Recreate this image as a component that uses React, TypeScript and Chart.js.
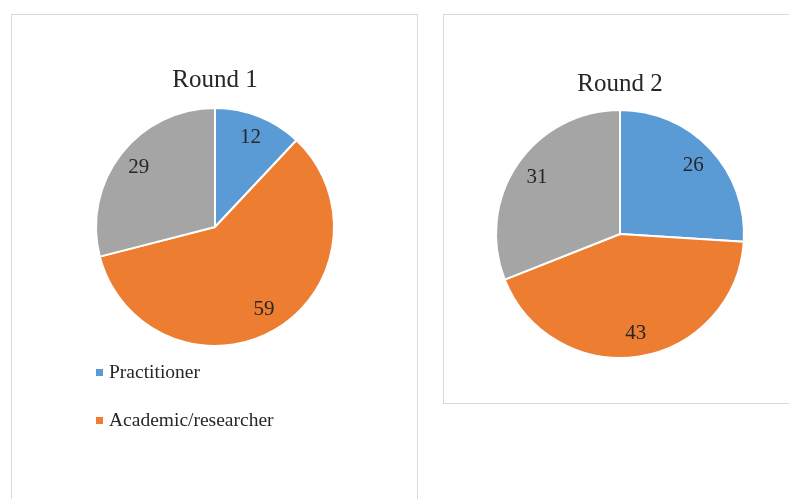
import React, { useEffect, useRef } from "react";
import { Chart, registerables } from "chart.js";

Chart.register(...registerables);

// ---- data ----
const categories = ["Practitioner", "Academic/researcher", "Other"];
const round1Values = [12, 59, 29];
const round2Values = [26, 43, 31];
const round1Title = "Round 1";
const round2Title = "Round 2";
const sliceColors = ["#5B9BD5", "#ED7D31", "#A5A5A5"];
const legendShownCount = 2;

const FONT = '"Liberation Serif", "Times New Roman", serif';
const TEXT_COLOR = "#262626";

const sliceLabelPlugin = {
  id: "sliceLabels",
  afterDatasetsDraw(chart: any) {
    const ctx = chart.ctx;
    const meta = chart.getDatasetMeta(0);
    const data = chart.data.datasets[0].data;
    ctx.save();
    ctx.font = `21px ${FONT}`;
    ctx.fillStyle = TEXT_COLOR;
    ctx.textAlign = "center";
    ctx.textBaseline = "middle";
    meta.data.forEach((arc: any, i: number) => {
      const p = arc.getProps(["x", "y", "startAngle", "endAngle", "outerRadius"], true);
      const mid = (p.startAngle + p.endAngle) / 2;
      const r = p.outerRadius * 0.81;
      ctx.fillText(String(data[i]), p.x + Math.cos(mid) * r, p.y + Math.sin(mid) * r);
    });
    ctx.restore();
  },
};

type PieProps = {
  values: number[];
  title: string;
  width: number;
  height: number;
  radius: number;
  padding: { top: number; bottom: number; left: number; right: number };
};

function PieChart({ values, title, width, height, radius, padding }: PieProps) {
  const ref = useRef<HTMLCanvasElement | null>(null);
  useEffect(() => {
    if (!ref.current) return;
    const chart = new Chart(ref.current, {
      type: "pie",
      data: {
        labels: categories,
        datasets: [
          {
            data: values,
            backgroundColor: sliceColors,
            borderColor: "#ffffff",
            borderWidth: 2,
          },
        ],
      },
      options: {
        animation: false,
        responsive: false,
        devicePixelRatio: 1,
        radius: radius,
        layout: { padding },
        plugins: {
          legend: { display: false },
          tooltip: { enabled: false },
          title: {
            display: true,
            text: title,
            color: TEXT_COLOR,
            font: { family: FONT, size: 25, weight: "normal", lineHeight: 1.2 },
            padding: { top: 0, bottom: 0 },
          },
        },
      } as any,
      plugins: [sliceLabelPlugin],
    });
    return () => chart.destroy();
  }, [values, title, width, height, radius, padding]);
  return (
    <canvas
      ref={ref}
      width={width}
      height={height}
      style={{ display: "block", width, height }}
    />
  );
}

const leftPadding = { top: 50, bottom: 140, left: 1, right: 0 };
const rightPadding = { top: 54, bottom: 34, left: 0, right: 46 };

export default function App() {
  return (
    <div
      style={{
        position: "fixed",
        left: 0,
        top: 0,
        width: 789,
        height: 499,
        overflow: "hidden",
        background: "#ffffff",
      }}
    >
      <div
        style={{
          position: "absolute",
          left: 11,
          top: 14,
          width: 405,
          height: 495,
          border: "1px solid #d9d9d9",
        }}
      >
        <PieChart
          values={round1Values}
          title={round1Title}
          width={405}
          height={484}
          radius={119}
          padding={leftPadding}
        />
      </div>
      {categories.slice(0, legendShownCount).map((name, i) => (
        <div
          key={name}
          style={{
            position: "absolute",
            left: 96,
            top: 372 + i * 48 - 12,
            height: 24,
            display: "flex",
            alignItems: "center",
            fontFamily: FONT,
            fontSize: 19.5,
            color: TEXT_COLOR,
            whiteSpace: "nowrap",
          }}
        >
          <span
            style={{
              display: "inline-block",
              width: 7,
              height: 7,
              background: sliceColors[i],
              marginRight: 6,
            }}
          />
          <span>{name}</span>
        </div>
      ))}
      <div
        style={{
          position: "absolute",
          left: 443,
          top: 14,
          width: 398,
          height: 388,
          border: "1px solid #d9d9d9",
        }}
      >
        <PieChart
          values={round2Values}
          title={round2Title}
          width={398}
          height={388}
          radius={124}
          padding={rightPadding}
        />
      </div>
    </div>
  );
}
